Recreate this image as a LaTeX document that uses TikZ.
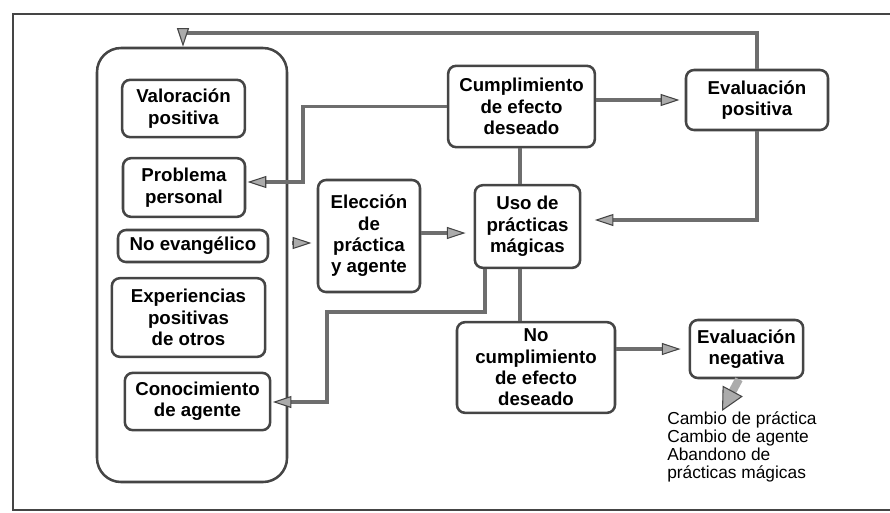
\documentclass[tikz,border=0pt]{standalone}
\usepackage{fontspec}
\setmainfont{Liberation Sans}
\usetikzlibrary{arrows.meta}
\usetikzlibrary{calc}
\definecolor{EDGE}{HTML}{454545}
\definecolor{LINK}{HTML}{6E6E6E}
\definecolor{TIP}{HTML}{ABABAB}

\begin{document}
\begin{tikzpicture}[x=0.75pt, y=-0.75pt,
    box/.style={draw=EDGE, line width=1.9pt, rounded corners=6pt, align=center, inner sep=1pt, font=\fontsize{14}{16}\selectfont\bfseries},
    link/.style={LINK, line width=2.4pt},
    flow/.style={link, -{Triangle[length=14pt, width=9pt, fill=TIP, color=EDGE, line width=0.8pt]}, shorten >=4pt},
    fat/.style={TIP, line width=6pt, -{Triangle[length=17pt, width=17pt, fill=TIP, color=EDGE, line width=0.8pt]}}]
    \useasboundingbox (0,0) rectangle (890,512);
    % frame
    \draw[EDGE, line width=1pt] (890,14) -- (13,14) -- (13,510) -- (890,510);
    % factores
    \node[draw=EDGE, line width=1.9pt, rounded corners=18pt, minimum width=142.5pt, minimum height=325.5pt] (factores) at (192,265) {};
    \node[box, minimum width=92pt, minimum height=43pt] (valor) at (183.5,108.5) {Valoración\\positiva};
    \node[box, minimum width=91.5pt, minimum height=44pt] (probl) at (184,187.5) {Problema\\personal};
    \node[box, minimum width=112.5pt, minimum height=24pt] (noevang) at (193,246) {No evangélico};
    \node[box, minimum width=115pt, minimum height=59pt] (exper) at (188.5,317.5) {Experiencias\\positivas\\de otros};
    \node[box, minimum width=109pt, minimum height=43pt] (conoc) at (197.5,401.5) {Conocimiento\\de agente};
    % proceso
    \node[box, minimum width=76.5pt, minimum height=84pt] (eleccion) at (369,236) {Elección\\de\\práctica\\y agente};
    \node[box, minimum width=110pt, minimum height=61pt] (cumpl) at (521.5,106.5) {Cumplimiento\\de efecto\\deseado};
    \node[box, minimum width=106.5pt, minimum height=45pt] (evalpos) at (757,100) {Evaluación\\positiva};
    \node[box, minimum width=79pt, minimum height=62pt] (uso) at (527.5,226.5) {Uso de\\prácticas\\mágicas};
    \node[box, minimum width=118.5pt, minimum height=68pt] (nocumpl) at (536,367.5) {No\\cumplimiento\\de efecto\\deseado};
    \node[box, minimum width=85pt, minimum height=43.5pt] (evalneg) at (746.5,349) {Evaluación\\negativa};
    \node[anchor=north west, inner sep=0pt, align=left, font=\fontsize{13}{13.5}\selectfont] (cambios) at (667,411) {Cambio de práctica\\Cambio de agente\\Abandono de\\prácticas mágicas};
    % conexiones
    \coordinate (retorno) at (183,33);
    \draw[flow, shorten >=0pt] (evalpos.north) |- (retorno) -- (retorno |- factores.north);
    \draw[flow, shorten >=1pt] (cumpl.west) -| (303,182) -- (probl.east |- 303,182);
    \draw[flow, shorten <=3pt] (factores.east |- 0,243) -- (eleccion.west |- 0,243);
    \draw[flow, shorten >=6pt] (eleccion.east |- 0,233) -- (uso.west |- 0,233);
    \draw[link] (cumpl.south -| 520,0) -- (uso.north -| 520,0);
    \draw[flow] (cumpl.east |- evalpos.west) -- (evalpos.west);
    \draw[flow, shorten >=10pt] (evalpos.south) |- (uso.east |- 0,220);
    \draw[flow, shorten >=1pt] (uso.south -| 485,0) |- (327,312) |- (conoc.east |- 0,402);
    \draw[link] (uso.south -| 520,0) -- (nocumpl.north -| 520,0);
    \draw[flow, shorten >=6pt] (nocumpl.east |- evalneg.west) -- (evalneg.west);
    \draw[fat] (evalneg.south -| 739,0) -- (cambios.north -| 722,0);
\end{tikzpicture}
\end{document}
